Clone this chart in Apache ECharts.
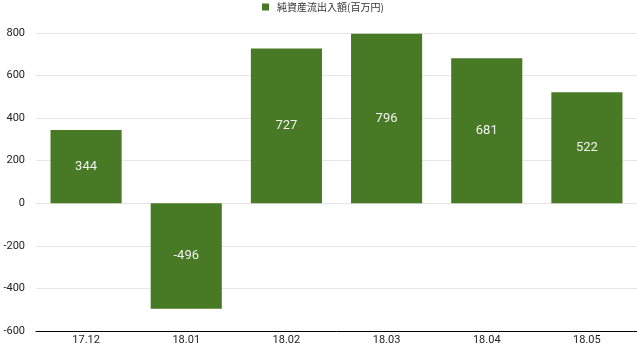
<!DOCTYPE html>
<html><head><meta charset="utf-8">
<script src="https://cdn.jsdelivr.net/npm/echarts@6/dist/echarts.min.js"></script>
<style>html,body{margin:0;padding:0;background:#fff}#c{width:637px;height:346px}</style>
</head><body><div id="c"></div>
<script>
const categories = ['17.12','18.01','18.02','18.03','18.04','18.05'];
const values = [344, -496, 727, 796, 681, 522];
const seriesName = '純資産流出入額(百万円)';
const yTicks = [-600, -400, -200, 0, 200, 400, 600, 800];

const chart = echarts.init(document.getElementById('c'));
chart.setOption({
  animation: false,
  legend: {
    top: 2, left: 262, itemWidth: 7, itemHeight: 7, itemGap: 5, padding: 0,
    textStyle: {fontSize: 10, color: '#333', fontFamily: '"Noto Sans CJK JP", sans-serif', padding: [0, 0, 0, 3]},
    icon: 'rect'
  },
  grid: {left: 36, right: 0, top: 33, bottom: 14, containLabel: false},
  xAxis: {
    type: 'category', data: categories,
    axisLine: {onZero: false, lineStyle: {color: '#000', width: 1}},
    axisTick: {show: false},
    axisLabel: {color: '#222', fontSize: 11, margin: 4, fontFamily: 'Roboto, sans-serif'}
  },
  yAxis: {
    type: 'value', min: yTicks[0], max: yTicks[yTicks.length-1], interval: 200,
    axisLine: {show: false}, axisTick: {show: false},
    splitLine: {lineStyle: {color: '#e6e6e6'}},
    axisLabel: {color: '#222', fontSize: 11, margin: 11, fontFamily: 'Roboto, sans-serif'}
  },
  series: [{
    name: seriesName, type: 'bar', data: values, barWidth: '71%',
    itemStyle: {color: '#487a25'},
    label: {show: true, position: 'inside', color: '#f2f2f2', fontSize: 13, fontFamily: 'Roboto, sans-serif'}
  }]
});
</script></body></html>
